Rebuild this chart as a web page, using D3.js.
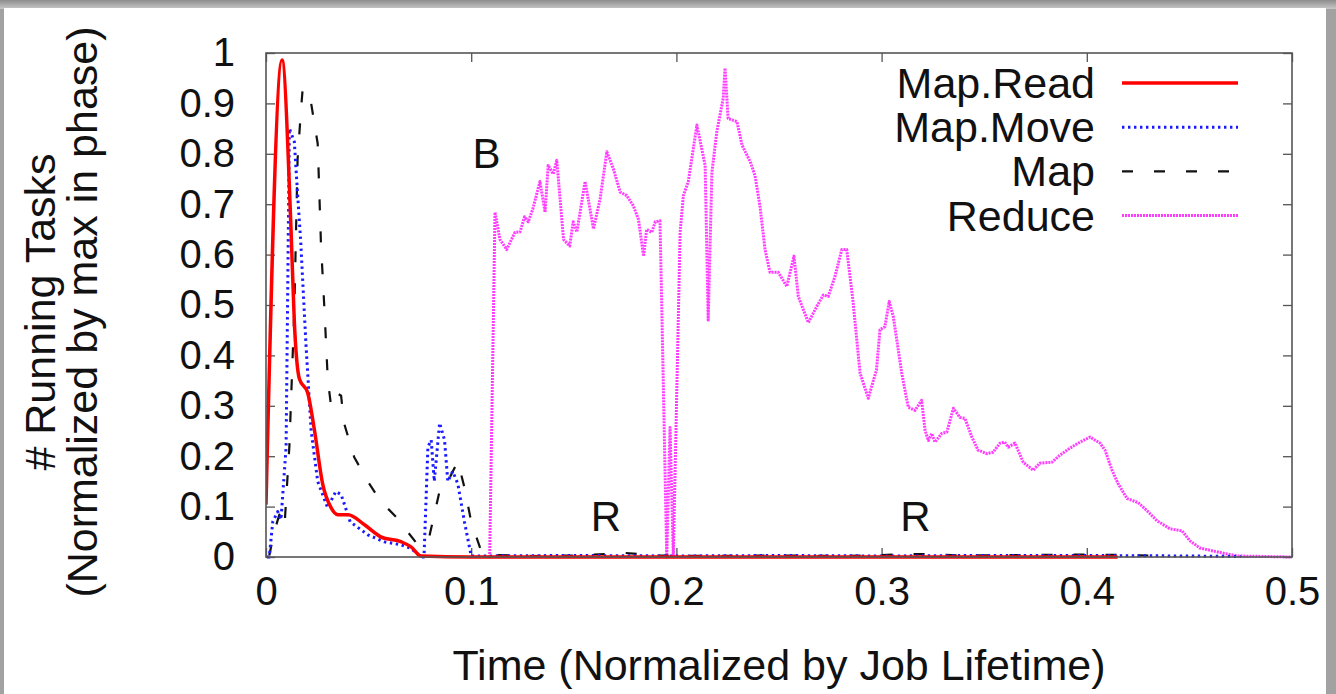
<!DOCTYPE html>
<html>
<head>
<meta charset="utf-8">
<script src="https://cdn.jsdelivr.net/npm/d3@7"></script>
<style>
	html, body { margin: 0; padding: 0; background: #fff; }
	svg { display: block; font-family: "Liberation Sans", Arial, Helvetica, sans-serif; }
</style>
</head>
<body>
<div id="graph"></div>
<script>
"use strict";

// ---- data ----
let xTicks = [0, 0.1, 0.2, 0.3, 0.4, 0.5];
let yTicks = [0, 0.1, 0.2, 0.3, 0.4, 0.5, 0.6, 0.7, 0.8, 0.9, 1];
let seriesNames = ["Map.Read", "Map.Move", "Map", "Reduce"];

let readT = [0, 0.0078, 0.0122, 0.0138, 0.0163, 0.0203, 0.0236, 0.0276, 0.0317, 0.035, 0.040, 0.048, 0.056, 0.066, 0.0707, 0.0756, 0.10, 0.20, 0.30, 0.415];
let readV = [0.104, 0.986, 0.649, 0.467, 0.353, 0.326, 0.252, 0.145, 0.098, 0.084, 0.084, 0.064, 0.040, 0.030, 0.020, 0.002, 0, 0, 0, 0];

let moveT = [0.0005, 0.0016, 0.0033, 0.0057, 0.0073, 0.0098, 0.0114, 0.0138, 0.0154, 0.017, 0.0195, 0.022, 0.0252, 0.030, 0.034, 0.0366, 0.041, 0.0496, 0.0577, 0.066, 0.0707, 0.0756, 0.077, 0.0789, 0.0805, 0.082, 0.0846, 0.087, 0.0886, 0.091, 0.0935, 0.0967, 0.1, 0.15, 0.2, 0.25, 0.3, 0.35, 0.4, 0.45, 0.475];
let moveV = [0, 0, 0.07, 0.09, 0.074, 0.218, 0.85, 0.824, 0.72, 0.62, 0.42, 0.25, 0.15, 0.098, 0.13, 0.124, 0.07, 0.044, 0.03, 0.024, 0.017, 0, 0, 0.218, 0.232, 0.15, 0.266, 0.232, 0.15, 0.17, 0.145, 0.07, 0.002, 0.003, 0.002, 0.003, 0.002, 0.003, 0.003, 0.002, 0.001];

let mapT = [0.0016, 0.004, 0.0065, 0.009, 0.0114, 0.0138, 0.0154, 0.0171, 0.0179, 0.022, 0.0252, 0.0268, 0.0285, 0.0301, 0.0317, 0.0341, 0.0366, 0.038, 0.043, 0.0496, 0.056, 0.064, 0.069, 0.074, 0.079, 0.082, 0.085, 0.0886, 0.0935, 0.0967, 0.1, 0.105, 0.11, 0.13, 0.15, 0.165, 0.175, 0.19, 0.22, 0.25, 0.28, 0.30, 0.32, 0.34, 0.37, 0.40, 0.43];
let mapV = [0.003, 0.05, 0.084, 0.06, 0.22, 0.49, 0.79, 0.89, 0.93, 0.90, 0.82, 0.62, 0.49, 0.353, 0.30, 0.326, 0.32, 0.266, 0.198, 0.15, 0.11, 0.077, 0.05, 0.024, 0.03, 0.084, 0.138, 0.15, 0.19, 0.138, 0.07, 0.01, 0.004, 0.002, 0.003, 0.006, 0.008, 0.003, 0.002, 0.003, 0.002, 0.004, 0.006, 0.003, 0.004, 0.005, 0.003];

let reduceT = [0.109, 0.1116, 0.114, 0.1173, 0.1213, 0.1238, 0.126, 0.1278, 0.130, 0.1335, 0.136, 0.1375, 0.140, 0.1417, 0.145, 0.148, 0.1497, 0.1515, 0.1555, 0.1596, 0.1628, 0.1661, 0.1693, 0.1726, 0.1758, 0.179, 0.1815, 0.184, 0.1855, 0.188, 0.1897, 0.192, 0.1928, 0.1953, 0.1969, 0.1985, 0.2018, 0.2034, 0.2058, 0.21, 0.214, 0.2155, 0.2173, 0.2197, 0.2228, 0.2237, 0.2252, 0.2295, 0.232, 0.236, 0.2383, 0.2407, 0.2432, 0.2456, 0.2496, 0.2538, 0.2573, 0.2594, 0.2643, 0.2684, 0.2716, 0.274, 0.2773, 0.2806, 0.283, 0.286, 0.2895, 0.2935, 0.2975, 0.2992, 0.3016, 0.3037, 0.3057, 0.3098, 0.313, 0.3163, 0.3195, 0.3212, 0.3228, 0.3244, 0.326, 0.3293, 0.3318, 0.335, 0.3382, 0.3406, 0.344, 0.347, 0.3513, 0.3544, 0.3577, 0.360, 0.3617, 0.365, 0.369, 0.3739, 0.377, 0.383, 0.3869, 0.3918, 0.3967, 0.4016, 0.4064, 0.4089, 0.4123, 0.4152, 0.4196, 0.425, 0.4293, 0.4342, 0.4405, 0.4464, 0.4503, 0.455, 0.4615, 0.4683, 0.4737, 0.5];
let reduceV = [0, 0.684, 0.63, 0.61, 0.644, 0.645, 0.675, 0.665, 0.69, 0.745, 0.684, 0.777, 0.76, 0.787, 0.63, 0.617, 0.665, 0.645, 0.745, 0.651, 0.71, 0.804, 0.77, 0.724, 0.717, 0.697, 0.67, 0.597, 0.65, 0.644, 0.665, 0.667, 0.51, 0, 0.257, 0, 0.644, 0.717, 0.745, 0.857, 0.777, 0.47, 0.763, 0.844, 0.91, 0.97, 0.87, 0.864, 0.817, 0.784, 0.757, 0.697, 0.61, 0.565, 0.565, 0.537, 0.597, 0.517, 0.465, 0.497, 0.52, 0.517, 0.557, 0.61, 0.61, 0.51, 0.365, 0.315, 0.371, 0.451, 0.457, 0.507, 0.477, 0.365, 0.297, 0.291, 0.311, 0.251, 0.231, 0.245, 0.228, 0.245, 0.248, 0.295, 0.277, 0.275, 0.238, 0.212, 0.205, 0.208, 0.226, 0.228, 0.218, 0.226, 0.188, 0.172, 0.186, 0.188, 0.202, 0.216, 0.228, 0.238, 0.226, 0.212, 0.172, 0.146, 0.116, 0.108, 0.092, 0.072, 0.056, 0.052, 0.032, 0.018, 0.012, 0.006, 0.002, 0];

let annotations = [
	{ text: "B", t: 0.1074, v: 0.771 },
	{ text: "R", t: 0.1657, v: 0.052 },
	{ text: "R", t: 0.3165, v: 0.052 }
];

// ---- drawing ----
let width = 1336;
let height = 694;
let margin = {
	top: 53,
	right: 44,
	bottom: 137,
	left: 266
};
let plotWidth = width - margin.left - margin.right;
let plotHeight = height - margin.top - margin.bottom;

let svg = d3.select("#graph")
			.append("svg")
			.attr("width", width)
			.attr("height", height);

// grey picture frame
let defs = svg.append("defs");
let grad = defs.append("linearGradient")
			.attr("id", "topShade")
			.attr("x1", 0).attr("y1", 0).attr("x2", 0).attr("y2", 1);
grad.append("stop").attr("offset", "0%").attr("stop-color", "#8c8c8c");
grad.append("stop").attr("offset", "100%").attr("stop-color", "#c8c8c8");
svg.append("rect").attr("width", width).attr("height", height).attr("fill", "#a2a2a2");
svg.append("rect").attr("width", width).attr("height", 9).attr("fill", "url(#topShade)");
svg.append("rect")
	.attr("x", 4).attr("y", 8)
	.attr("width", 1322).attr("height", height - 8)
	.attr("fill", "#fff");

defs.append("clipPath")
	.attr("id", "plotClip")
	.append("rect")
	.attr("x", 0).attr("y", -2)
	.attr("width", plotWidth).attr("height", plotHeight + 4);

let g = svg.append("g")
			.attr("transform", "translate(" + margin.left + "," + margin.top + ")");

let x = d3.scaleLinear().domain([0, 0.5]).range([0, plotWidth]);
let y = d3.scaleLinear().domain([0, 1]).range([plotHeight, 0]);
let fmt = function(d) { return d3.format("")(+d.toFixed(1)); };

let tickLen = 9;
let xAxisBottom = g.append("g")
		.attr("transform", "translate(0," + plotHeight + ")")
		.call(d3.axisBottom(x).tickValues(xTicks).tickSize(-tickLen).tickPadding(34).tickFormat(fmt));
let xAxisTop = g.append("g")
		.call(d3.axisTop(x).tickValues(xTicks).tickSize(-tickLen).tickFormat(""));
let yAxisLeft = g.append("g")
		.call(d3.axisLeft(y).tickValues(yTicks).tickSize(-tickLen).tickPadding(31).tickFormat(fmt));
let yAxisRight = g.append("g")
		.attr("transform", "translate(" + plotWidth + ",0)")
		.call(d3.axisRight(y).tickValues(yTicks).tickSize(-tickLen).tickFormat(""));

[xAxisBottom, xAxisTop, yAxisLeft, yAxisRight].forEach(function(a)
{
	a.select(".domain").remove();
	a.selectAll(".tick line").attr("stroke", "#555").attr("stroke-width", 1.3);
	a.selectAll("text")
		.attr("fill", "#111")
		.style("font-size", "40px")
		.style("font-family", "'Liberation Sans', Arial, sans-serif");
});
xAxisBottom.selectAll("text").attr("dy", "0.35em");

// series
function zipSeries(ts, vs)
{
	return ts.map(function(t, i) { return [t, vs[i]]; });
}

let series = [
	{ name: seriesNames[0], data: zipSeries(readT, readV), color: "#ff0000", width: 3.5, dash: null, curve: d3.curveMonotoneX },
	{ name: seriesNames[1], data: zipSeries(moveT, moveV), color: "#1a1aff", width: 3, dash: "2.4,3.6", curve: d3.curveLinear },
	{ name: seriesNames[2], data: zipSeries(mapT, mapV), color: "#111", width: 2.2, dash: "11,21", curve: d3.curveLinear },
	{ name: seriesNames[3], data: zipSeries(reduceT, reduceV), color: "#ff3cff", width: 3, dash: "2,1", curve: d3.curveLinear }
];

let plot = g.append("g").attr("clip-path", "url(#plotClip)");

// draw order: reduce at the back, map.read on top
[3, 2, 1, 0].forEach(function(i)
{
	let s = series[i];
	let line = d3.line()
			.curve(s.curve)
			.x(function(d) { return x(d[0]); })
			.y(function(d) { return y(d[1]); });
	plot.append("path")
		.datum(s.data)
		.attr("d", line)
		.attr("fill", "none")
		.attr("stroke", s.color)
		.attr("stroke-width", s.width)
		.attr("stroke-linejoin", "round")
		.attr("stroke-dasharray", s.dash);
});

// frame
g.append("rect")
	.attr("width", plotWidth)
	.attr("height", plotHeight)
	.attr("fill", "none")
	.attr("stroke", "#555")
	.attr("stroke-width", 1.6);

// annotations
g.selectAll(".note")
	.data(annotations)
	.enter().append("text")
	.attr("class", "note")
	.attr("x", function(d) { return x(d.t); })
	.attr("y", function(d) { return y(d.v); })
	.attr("text-anchor", "middle")
	.style("font-size", "42px")
	.attr("fill", "#111")
	.text(function(d) { return d.text; });

// legend
let legend = svg.append("g").attr("transform", "translate(1095,98)");
let legendRows = legend.selectAll(".legendRow")
		.data(series)
		.enter().append("g")
		.attr("class", "legendRow")
		.attr("transform", function(d, i) { return "translate(0," + (i * 44.2) + ")"; });
legendRows.append("text")
	.attr("text-anchor", "end")
	.style("font-size", "43px")
	.attr("fill", "#111")
	.text(function(d) { return d.name; });
legendRows.append("line")
	.attr("x1", 27).attr("x2", 143)
	.attr("y1", -15).attr("y2", -15)
	.attr("stroke", function(d) { return d.color; })
	.attr("stroke-width", function(d) { return d.width; })
	.attr("stroke-dasharray", function(d) { return d.dash; });

// axis titles
svg.append("text")
	.attr("x", margin.left + plotWidth / 2)
	.attr("y", 680)
	.attr("text-anchor", "middle")
	.style("font-size", "43px")
	.attr("fill", "#111")
	.text("Time (Normalized by Job Lifetime)");

let yTitle = svg.append("text")
	.attr("transform", "translate(0,312) rotate(-90)")
	.attr("text-anchor", "middle")
	.style("font-size", "43px")
	.attr("fill", "#111");
yTitle.append("tspan").attr("x", 0).attr("y", 55).text("# Running Tasks");
yTitle.append("tspan").attr("x", 0).attr("y", 97).text("(Normalized by max in phase)");
</script>
</body>
</html>
